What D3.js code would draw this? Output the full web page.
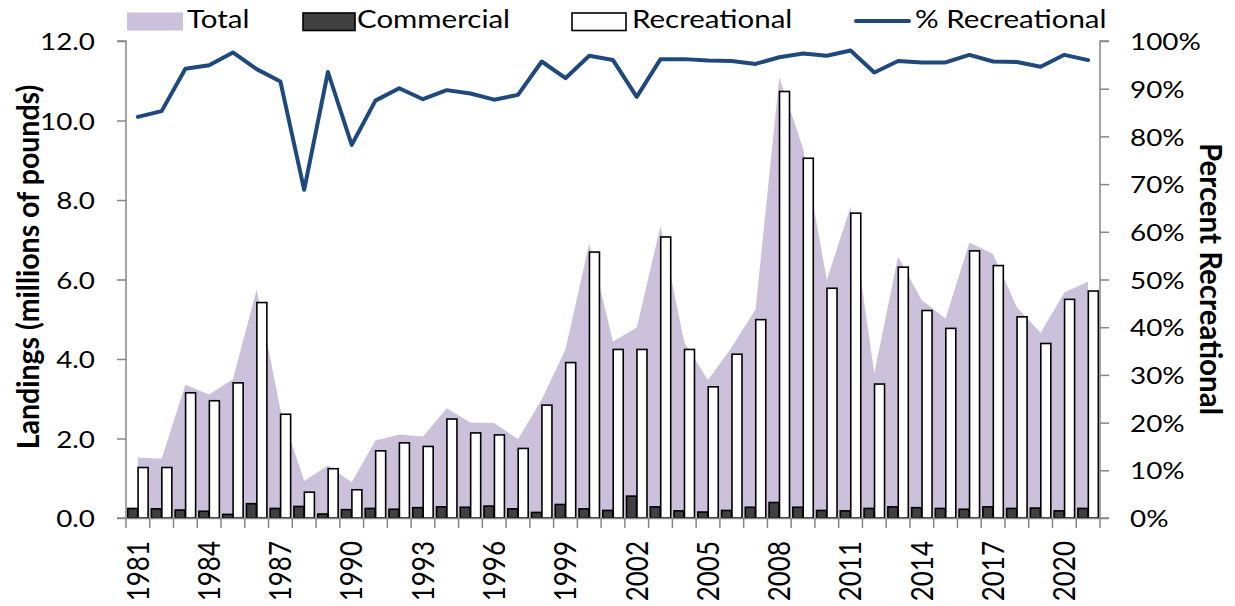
<!DOCTYPE html>
<html><head><meta charset="utf-8">
<script src="https://cdn.jsdelivr.net/npm/d3@7"></script>
<style>
html,body{margin:0;padding:0;background:#fff;}
svg{display:block;font-family:Lato, "Open Sans", sans-serif;}
</style></head>
<body>
<svg id="chart" width="1235" height="606"></svg>
<script>
const years = [1981,1982,1983,1984,1985,1986,1987,1988,1989,1990,1991,1992,1993,1994,1995,1996,1997,1998,1999,2000,2001,2002,2003,2004,2005,2006,2007,2008,2009,2010,2011,2012,2013,2014,2015,2016,2017,2018,2019,2020,2021];
const commercial = [0.24,0.23,0.20,0.17,0.09,0.36,0.24,0.29,0.10,0.21, 0.24,0.22,0.26,0.28,0.27,0.30,0.23,0.14,0.34,0.23, 0.19,0.55,0.28,0.18,0.15,0.19,0.27,0.39,0.27,0.19, 0.18,0.24,0.28,0.26,0.24,0.22,0.28,0.24,0.25,0.18,0.24];
const recreational = [1.27,1.27,3.15,2.95,3.40,5.42,2.61,0.65,1.24,0.71, 1.69,1.89,1.80,2.49,2.14,2.09,1.75,2.84,3.91,6.69, 4.24,4.24,7.07,4.24,3.30,4.12,4.99,10.73,9.05,5.78, 7.67,3.37,6.31,5.22,4.77,6.72,6.35,5.06,4.39,5.50,5.71];
const total = [1.52,1.49,3.35,3.11,3.49,5.75,2.73,0.93,1.32,0.90, 1.95,2.10,2.05,2.76,2.40,2.39,1.98,2.98,4.24,6.91, 4.44,4.79,7.35,4.42,3.47,4.30,5.25,11.08,9.30,5.99, 7.83,3.64,6.57,5.48,5.02,6.93,6.64,5.30,4.66,5.67,5.95];
const pctRecreational = [84.1,85.3,94.2,94.9,97.6,94.1,91.5,68.8,93.5,78.2, 87.5,90.1,87.8,89.7,89.0,87.7,88.7,95.7,92.2,96.9, 96.0,88.3,96.2,96.2,95.9,95.8,95.2,96.6,97.4,96.9, 98.0,93.4,95.8,95.5,95.5,97.1,95.7,95.6,94.6,97.1,96.0];
const leftTicks = [0,2,4,6,8,10,12];
const rightTicks = [0,10,20,30,40,50,60,70,80,90,100];
const xLabelYears = [1981,1984,1987,1990,1993,1996,1999,2002,2005,2008,2011,2014,2017,2020];
const legendItems = ["Total","Commercial","Recreational","% Recreational"];

const svg = d3.select("#chart");
const m = {left:126, right:1100, top:41, bottom:518};
const axisColor = "#868686";
const tickFont = 24, stretch = 1.16;

const x = d3.scaleBand().domain(years).range([m.left, m.right]).padding(0);
const x1 = d3.scaleBand().domain(["c","r"]).range([x.bandwidth()*0.07, x.bandwidth()*0.93]).paddingInner(0.04);
const y = d3.scaleLinear().domain([0,12]).range([m.bottom, m.top]);
const y2 = d3.scaleLinear().domain([0,100]).range([m.bottom, m.top]);
const cx = d => x(d) + x.bandwidth()/2;

// Area (Total)
const area = d3.area().x((d,i)=>cx(years[i])).y0(y(0)).y1(d=>y(d));
svg.append("path").datum(total).attr("d", area).attr("fill", "#CCC1DA");

// Bars
const g = svg.append("g");
g.selectAll("rect.c").data(commercial).join("rect")
  .attr("x",(d,i)=>x(years[i])+x1("c")).attr("width",x1.bandwidth())
  .attr("y",d=>y(d)).attr("height",d=>y(0)-y(d))
  .attr("fill","#404040").attr("stroke","#000").attr("stroke-width",1.6);
g.selectAll("rect.r").data(recreational).join("rect")
  .attr("x",(d,i)=>x(years[i])+x1("r")).attr("width",x1.bandwidth())
  .attr("y",d=>y(d)).attr("height",d=>y(0)-y(d))
  .attr("fill","#fff").attr("stroke","#000").attr("stroke-width",1.6);

// Line
const line = d3.line().x((d,i)=>cx(years[i])).y(d=>y2(d));
svg.append("path").datum(pctRecreational).attr("d", line)
  .attr("fill","none").attr("stroke","#1F497D").attr("stroke-width",4).attr("stroke-linejoin","round").attr("stroke-linecap","round");

// Left axis
const la = svg.append("g").attr("transform",`translate(${m.left},0)`)
  .call(d3.axisLeft(y).tickValues(leftTicks).tickFormat(d3.format(".1f")).tickSize(9));
la.selectAll(".tick text").attr("x",0).attr("dy","0.36em").attr("text-anchor","end")
  .attr("transform",`translate(-31,0) scale(${stretch},1)`);
// Right axis
const ra = svg.append("g").attr("transform",`translate(${m.right},0)`)
  .call(d3.axisRight(y2).tickValues(rightTicks).tickFormat(d=>d+"%").tickSize(9));
ra.selectAll(".tick text").attr("x",0).attr("dy","0.36em").attr("text-anchor","start")
  .attr("transform",`translate(30,0) scale(${stretch},1)`);
// Bottom axis
const ba = svg.append("g").attr("transform",`translate(0,${m.bottom})`)
  .call(d3.axisBottom(x).tickValues(xLabelYears).tickSize(0).tickFormat(d=>d));
ba.selectAll(".tick text").attr("transform","scale(1.15,1) rotate(-90)").attr("text-anchor","end")
  .attr("x",-23).attr("y",0).attr("dy","0.36em").style("font-size","26px");
// bottom tick marks at band boundaries
const bounds = years.map(d=>x(d)).concat([m.right]);
svg.append("g").selectAll("line").data(bounds).join("line")
  .attr("x1",d=>d).attr("x2",d=>d)
  .attr("y1",m.bottom).attr("y2",m.bottom+10).attr("stroke",axisColor).attr("stroke-width",1.5);

[la,ra,ba].forEach(a=>{
  a.selectAll(".domain").attr("stroke",axisColor).attr("stroke-width",1.5);
  a.selectAll(".tick line").attr("stroke",axisColor).attr("stroke-width",1.5);
  a.selectAll(".tick text").attr("fill","#000").style("font-family","Lato, sans-serif");
});
la.selectAll(".tick text").style("font-size",tickFont+"px");
ra.selectAll(".tick text").style("font-size",tickFont+"px");
la.select(".domain").attr("d",`M-9,${m.top}H0V${m.bottom}H-9`);
ra.select(".domain").attr("d",`M9,${m.top}H0V${m.bottom}H9`);

// Axis titles
svg.append("text").attr("transform",`translate(29,267) scale(1.05,1) rotate(-90)`)
  .attr("text-anchor","middle").attr("dy","0.35em")
  .style("font-size","28.5px").style("font-weight","bold").text("Landings (millions of pounds)");
svg.append("text").attr("transform",`translate(1211,279) scale(1.05,1) rotate(90)`)
  .attr("text-anchor","middle").attr("dy","0.35em")
  .style("font-size","29.5px").style("font-weight","bold").text("Percent Recreational");

// Legend
const lg = svg.append("g").style("font-size","25px");
const swX = [127, 303, 572];
const txX = [187, 357, 632, 915];
lg.append("rect").attr("x",swX[0]).attr("y",12.5).attr("width",56).attr("height",18).attr("fill","#CCC1DA");
lg.append("rect").attr("x",swX[1]).attr("y",13).attr("width",52).attr("height",17.5).attr("fill","#404040").attr("stroke","#000").attr("stroke-width",1.6);
lg.append("rect").attr("x",swX[2]).attr("y",13).attr("width",54).attr("height",17.5).attr("fill","#fff").attr("stroke","#000").attr("stroke-width",1.6);
lg.append("line").attr("x1",856).attr("x2",909).attr("y1",21).attr("y2",21).attr("stroke","#1F497D").attr("stroke-width",4).attr("stroke-linecap","round");
legendItems.forEach((t,i)=>{
  lg.append("text").attr("x",0).attr("y",0)
    .attr("transform",`translate(${txX[i]},28.3) scale(1.18,1)`).text(t);
});
</script>
</body></html>
